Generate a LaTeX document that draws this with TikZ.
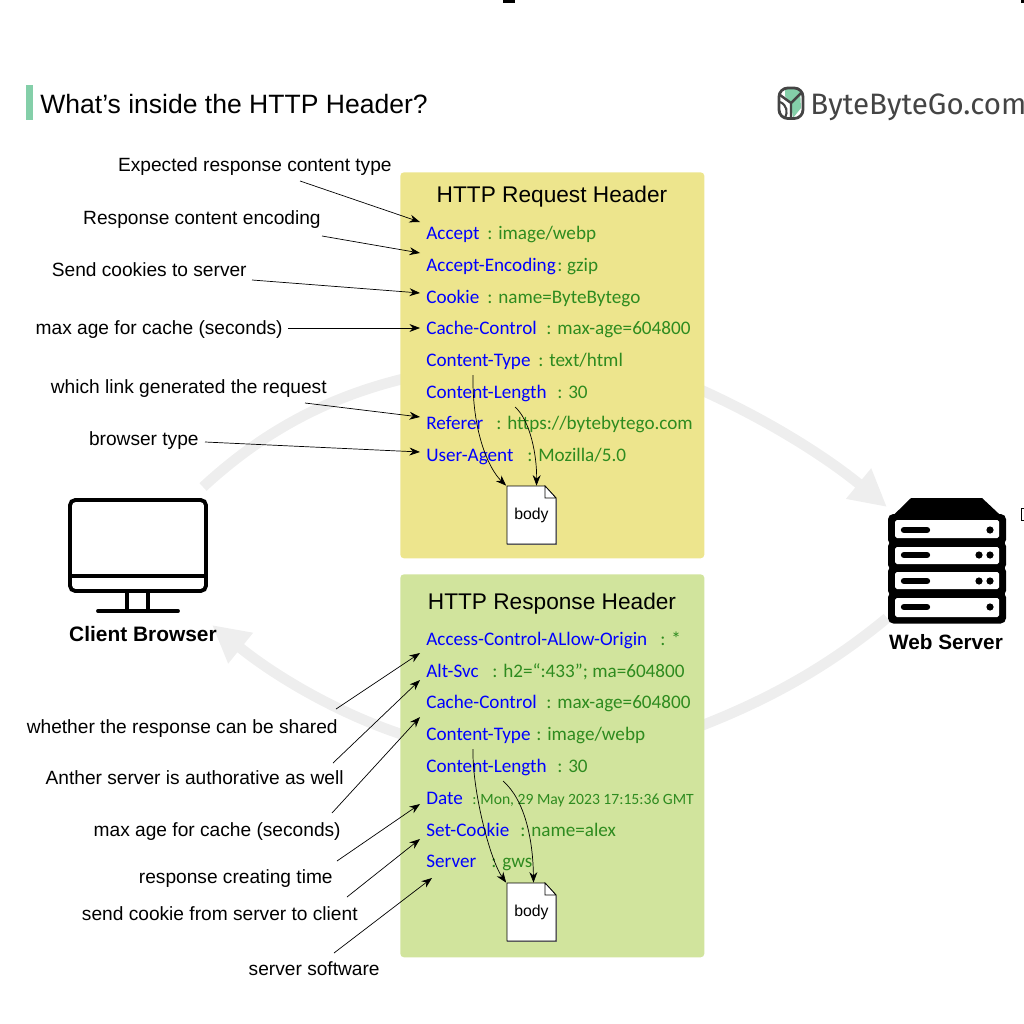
\documentclass[tikz,border=0pt]{standalone}
\usepackage{fontspec}
\usetikzlibrary{arrows.meta}
\setmainfont{Liberation Sans}
\newfontfamily\fieldfont{Carlito}
\newfontfamily\logofont{Fira Sans}
\definecolor{reqyellow}{HTML}{EDE58D}
\definecolor{respgreen}{HTML}{D1E49D}
\definecolor{flowgrey}{HTML}{EEEEEE}
\definecolor{fieldgreen}{HTML}{2E8B1F}
\definecolor{barmint}{HTML}{84CFA9}
\definecolor{logogrey}{HTML}{444444}
\begin{document}
\begin{tikzpicture}[x=0.02cm,y=-0.02cm]
\tikzstyle{every node}+=[inner sep=0pt]
\tikzstyle{panel}=[fill=#1,rounded corners=2pt,anchor=north west,minimum width=6.08cm,minimum height=7.7cm]
\tikzstyle{paneltitle}=[font=\fontsize{12.9pt}{14pt}\selectfont]
\tikzstyle{note}=[anchor=base east,font=\fontsize{10.9pt}{13pt}\selectfont]
\tikzstyle{fieldkey}=[anchor=base west,text=blue,font=\fieldfont\fontsize{10.9pt}{12pt}\selectfont]
\tikzstyle{fieldval}=[anchor=base west,text=fieldgreen,font=\fieldfont\fontsize{10.9pt}{12pt}\selectfont]
\tikzstyle{pointer}=[black,-{Stealth[length=6pt,width=4.5pt]}]
\tikzstyle{bodylink}=[black,line width=0.4pt,-{Stealth[length=6pt,width=4.5pt]}]
\tikzstyle{flow}=[flowgrey,line width=6pt,-{Triangle[length=21pt,width=21pt]}]
\tikzstyle{docpage}=[minimum width=1cm,minimum height=1.16cm,font=\fontsize{9pt}{10pt}\selectfont]
\tikzstyle{docsheet}=[draw=black,fill=white,line width=0.5pt]
\tikzstyle{iconline}=[black,line width=2.2pt,line cap=round]
\tikzstyle{rackunit}=[fill=black,rounded corners=3pt]
\tikzstyle{rackrow}=[fill=white,rounded corners=1pt]
\useasboundingbox (0,0) rectangle (1024,1024);
% marks on the edges
\fill [black] (503,0) rectangle (515,3);
\fill [black] (1021,0) rectangle (1024,3);
\draw [black,line width=0.5pt] (1024,508) -- (1021,508) -- (1021,520) -- (1024,520);
% title and logo
\fill [barmint] (26,85) rectangle (33,120);
\node (title) [anchor=base west,font=\fontsize{15.1pt}{17pt}\selectfont] at (40,113) {What’s inside the HTTP Header?};
\fill [barmint] (785,89) -- (800,89) -- (801,108) -- (793,118) -- (791,104) -- (785,96) -- cycle;
\draw [logogrey,line width=1.6pt,rounded corners=5pt] (779,88) -- (803,88) -- (803,118.5) -- (779,118.5) -- cycle;
\draw [logogrey,line width=1.4pt] (780,95) -- (791,103) -- (802,92) (791,103) -- (791,118);
\draw [logogrey,line width=1.2pt] (780,102) .. controls (787,105) and (788,112) .. (785,118);
\node (logo) [anchor=base west,text=logogrey,font=\logofont\fontsize{16.8pt}{19pt}\selectfont] at (810,114) {ByteByteGo.com};
% request and response flows
\coordinate (upstart) at (203,487);
\coordinate (upend) at (887,507);
\coordinate (downstart) at (887,618);
\coordinate (downend) at (212,625);
\draw [flow] (upstart) .. controls (270,425) and (340,392) .. (420,375) -- (690,385) .. controls (770,420) and (830,460) .. (upend);
\draw [flow] (downstart) .. controls (830,665) and (770,700) .. (690,730) -- (420,740) .. controls (350,720) and (280,680) .. (downend);
% panels
\node (reqbox) [panel=reqyellow,minimum height=7.72cm] at (400,172) {};
\node (respbox) [panel=respgreen,minimum height=7.66cm] at (400,574) {};
\node (reqtitle) [paneltitle] at (552,196.5) {HTTP Request Header};
\node (resptitle) [paneltitle] at (552,603.5) {HTTP Response Header};
% request fields
\node (kaccept) [fieldkey] at (426,239.5) {Accept};
\node (vaccept) [fieldval] at (487,239.5) {:\hspace{3.3pt}image/webp};
\node (kencoding) [fieldkey] at (426,271.5) {Accept-Encoding};
\node (vencoding) [fieldval] at (557,271.5) {:\hspace{2.6pt}gzip};
\node (kcookie) [fieldkey] at (426,303.5) {Cookie};
\node (vcookie) [fieldval] at (487,303.5) {:\hspace{3.3pt}name=ByteBytego};
\node (kcache) [fieldkey] at (426,334.5) {Cache-Control};
\node (vcache) [fieldval] at (546,334.5) {:\hspace{3.3pt}max-age=604800};
\node (ktype) [fieldkey] at (426,366.5) {Content-Type};
\node (vtype) [fieldval] at (538,366.5) {:\hspace{3.3pt}text/html};
\node (klength) [fieldkey] at (426,398.5) {Content-Length};
\node (vlength) [fieldval] at (557,398.5) {:\hspace{3.3pt}30};
\node (kreferer) [fieldkey] at (426,429.5) {Referer};
\node (vreferer) [fieldval] at (496,429.5) {:\hspace{3.3pt}https://bytebytego.com};
\node (kagent) [fieldkey] at (426,461.5) {User-Agent};
\node (vagent) [fieldval] at (527,461.5) {:\hspace{3.3pt}Mozilla/5.0};
% response fields
\node (korigin) [fieldkey] at (426,645.5) {Access-Control-ALlow-Origin};
\node (vorigin) [fieldval] at (660,645.5) {:\hspace{3.3pt}*};
\node (ksvc) [fieldkey] at (426,677.5) {Alt-Svc};
\node (vsvc) [fieldval] at (492,677.5) {:\hspace{3.3pt}h2=“:433”; ma=604800};
\node (kcache2) [fieldkey] at (426,708.5) {Cache-Control};
\node (vcache2) [fieldval] at (546,708.5) {:\hspace{3.3pt}max-age=604800};
\node (ktype2) [fieldkey] at (426,740.5) {Content-Type};
\node (vtype2) [fieldval] at (536,740.5) {:\hspace{3.3pt}image/webp};
\node (klength2) [fieldkey] at (426,772.5) {Content-Length};
\node (vlength2) [fieldval] at (557,772.5) {:\hspace{3.3pt}30};
\node (kdate) [fieldkey] at (426,804.5) {Date};
\node (vdate) [fieldval,font=\fieldfont\fontsize{8.9pt}{11pt}\selectfont] at (472,804.5) {:\hspace{2.2pt}Mon, 29 May 2023 17:15:36 GMT};
\node (ksetcookie) [fieldkey] at (426,836.5) {Set-Cookie};
\node (vsetcookie) [fieldval] at (520,836.5) {:\hspace{3.3pt}name=alex};
\node (kserver) [fieldkey] at (426,867.5) {Server};
\node (vserver) [fieldval] at (491,867.5) {:\hspace{3.3pt}gws};
% body pages
\draw [gray,line width=1pt] (507,544.5) -- (556.5,544.5) -- (556.5,499);
\draw [docsheet] (507,486) -- (545,486) -- (556,498) -- (556,544) -- (507,544) -- cycle;
\draw [black,line width=0.4pt,fill=white] (545,486) -- (545,498) -- (556,498) -- cycle;
\node (reqbody) [docpage] at (531.5,515) {\raisebox{-1pt}{body}};
\draw [gray,line width=1pt] (507,941.5) -- (556.5,941.5) -- (556.5,896);
\draw [docsheet] (507,883) -- (545,883) -- (556,895) -- (556,941) -- (507,941) -- cycle;
\draw [black,line width=0.4pt,fill=white] (545,883) -- (545,895) -- (556,895) -- cycle;
\node (respbody) [docpage] at (531.5,912) {\raisebox{-1pt}{body}};
\draw [bodylink] ([shift={(47,8.5)}]ktype.base west) .. controls (472,430) and (488,468) .. (reqbody.north west);
\draw [bodylink] ([shift={(89,8.5)}]klength.base west) .. controls (530,420) and (537,455) .. ([shift={(5,0)}]reqbody.north);
\draw [bodylink] ([shift={(47,8.5)}]ktype2.base west) .. controls (472,790) and (490,860) .. (respbody.north west);
\draw [bodylink] ([shift={(77,8.5)}]klength2.base west) .. controls (525,800) and (533,840) .. ([shift={(2,0)}]respbody.north);
% notes for the request
\node (naccept) [note] at (392,171.5) {Expected response content type};
\node (nencoding) [note] at (321,224.5) {Response content encoding};
\node (ncookie) [note] at (247,276.5) {Send cookies to server};
\node (ncache) [note] at (283,334.5) {max age for cache (seconds)};
\node (nreferer) [note] at (327,393.5) {which link generated the request};
\node (nagent) [note] at (199,445.5) {browser type};
\draw [pointer] ([shift={(-92,9.5)}]naccept.base east) -- ([shift={(-6,-17.5)}]kaccept.base west);
\draw [pointer] ([shift={(1,11.5)}]nencoding.base east) -- ([shift={(-6,-18.5)}]kencoding.base west);
\draw [pointer] ([shift={(5,3.5)}]ncookie.base east) -- ([shift={(-6,-10.5)}]kcookie.base west);
\draw [pointer] ([shift={(5,-6.5)}]ncache.base east) -- ([shift={(-6,-6.5)}]kcache.base west);
\draw [pointer] ([shift={(-22,9.5)}]nreferer.base east) -- ([shift={(-6,-12.5)}]kreferer.base west);
\draw [pointer] ([shift={(6,-3.5)}]nagent.base east) -- ([shift={(-6,-9.5)}]kagent.base west);
% notes for the response
\node (norigin) [note] at (338,733.5) {whether the response can be shared};
\node (nsvc) [note] at (344,784.5) {Anther server is authorative as well};
\node (ncache2) [note] at (341,836.5) {max age for cache (seconds)};
\node (ndate) [note] at (333,883.5) {response creating time};
\node (nsetcookie) [note] at (358,920.5) {send cookie from server to client};
\node (nserver) [note] at (380,975.5) {server software};
\draw [pointer] ([shift={(-2,-24.5)}]norigin.base east) -- ([shift={(-6,7.5)}]korigin.base west);
\draw [pointer] ([shift={(-11,-21.5)}]nsvc.base east) -- ([shift={(-6,2.5)}]ksvc.base west);
\draw [pointer] ([shift={(-9,-23.5)}]ncache2.base east) -- ([shift={(-6,8.5)}]kcache2.base west);
\draw [pointer] ([shift={(4,-22.5)}]ndate.base east) -- ([shift={(-6,-0.5)}]kdate.base west);
\draw [pointer] ([shift={(-11,-23.5)}]nsetcookie.base east) -- ([shift={(-6,2.5)}]ksetcookie.base west);
\draw [pointer] ([shift={(-46,-22.5)}]nserver.base east) -- ([shift={(6,10.5)}]kserver.base west);
% client monitor
\draw [iconline,rounded corners=3pt] (70,500) rectangle (206,591);
\draw [iconline] (70,576) -- (206,576);
\draw [iconline] (127,591) -- (127,610) (148,591) -- (148,610);
\draw [iconline] (98,611) -- (178,611);
\node (client) [font=\bfseries\fontsize{11.9pt}{13pt}\selectfont] at (143,634) {Client Browser};
% web server rack
\fill [black] (888.5,520) -- (911,498) -- (982,498) -- (1005.5,520) -- cycle;
\path [rackunit] (888,514) rectangle (1006,545);
\path [rackunit] (888,541) rectangle (1006,570);
\path [rackunit] (888,566) rectangle (1006,596);
\path [rackunit] (888,592) rectangle (1006,623.5);
\fill [rackrow] (895,520) rectangle (999,538);
\fill [rackrow] (895,547) rectangle (999,564);
\fill [rackrow] (895,572) rectangle (999,589);
\fill [rackrow] (895,598) rectangle (999,617);
\draw [black,line width=3.6pt,line cap=round] (904,530) -- (927,530) (904,555) -- (927,555) (904,581) -- (927,581) (904,607) -- (927,607);
\fill [black] (990,530) circle (3.6) (979,555) circle (3.6) (990,555) circle (3.6) (979,581) circle (3.6) (990,581) circle (3.6) (990,607) circle (3.6);
\node (server) [font=\bfseries\fontsize{11.8pt}{13pt}\selectfont] at (946,642) {Web Server};
\end{tikzpicture}
\end{document}
